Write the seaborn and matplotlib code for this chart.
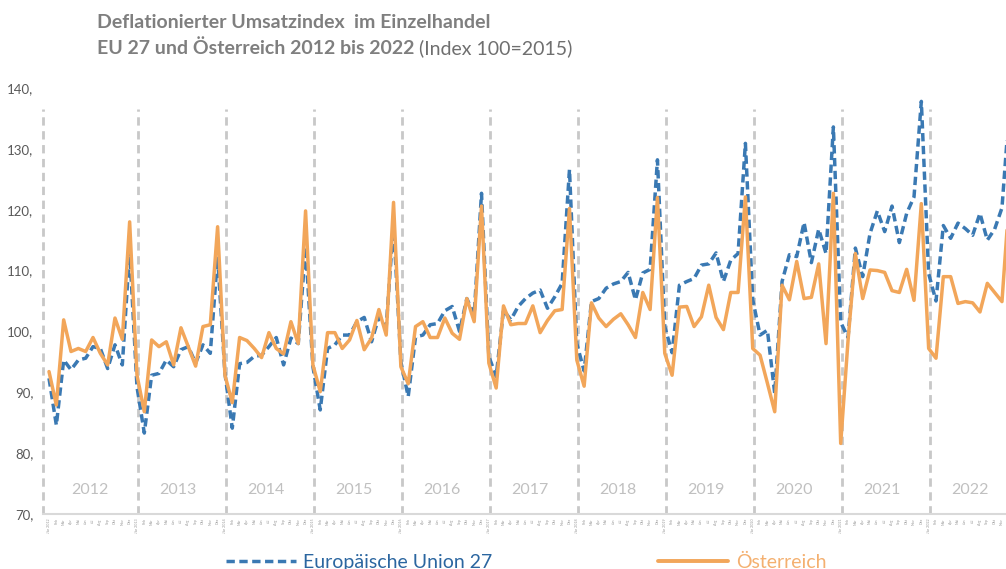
import numpy as np
import pandas as pd
import matplotlib.pyplot as plt
from matplotlib.lines import Line2D
import seaborn as sns

jahre = list(range(2012, 2023))
monate = ['Jän', 'Feb', 'Mär', 'Apr', 'Mai', 'Jun', 'Jul', 'Aug', 'Sep', 'Okt', 'Nov', 'Dez']

# Europäische Union 27, monthly Jan 2012 - Dez 2022
eu27 = [
    92.3, 84.6, 95.3, 93.7, 95.3, 95.6, 97.5, 97.2, 93.9, 97.8, 94.5, 113.4,
    90.9, 83.3, 92.8, 93.1, 95.3, 94.2, 97.0, 97.5, 94.8, 97.8, 96.4, 112.3,
    93.1, 84.1, 94.7, 94.9, 95.9, 96.1, 97.5, 99.0, 94.5, 98.9, 98.0, 113.9,
    94.2, 87.1, 97.2, 97.8, 99.4, 99.4, 101.6, 102.3, 98.3, 102.4, 100.8, 117.8,
    95.0, 89.3, 99.1, 99.4, 101.1, 101.3, 103.4, 104.1, 100.0, 105.4, 102.7, 122.7,
    95.9, 92.6, 103.5, 101.9, 104.1, 105.4, 106.3, 106.8, 103.8, 105.7, 107.9, 126.6,
    98.0, 93.5, 104.9, 105.4, 107.1, 107.8, 108.2, 109.7, 105.2, 109.6, 110.2, 128.2,
    100.8, 96.5, 107.6, 108.2, 108.7, 110.9, 111.1, 112.9, 108.2, 111.7, 112.8, 130.9,
    105.2, 99.4, 100.2, 89.8, 108.2, 112.6, 112.3, 117.9, 111.3, 116.8, 112.8, 133.6,
    101.5, 99.0, 113.7, 109.0, 116.1, 119.8, 116.4, 120.6, 114.6, 119.4, 122.1, 137.8,
    109.5, 105.0, 117.4, 115.3, 117.8, 116.9, 115.8, 119.4, 115.0, 116.8, 120.3, 136.5,
]

# Österreich
oesterreich = [
    93.4, 87.9, 101.9, 96.7, 97.2, 96.7, 99.0, 96.4, 94.5, 102.2, 98.7, 118.0,
    92.8, 86.8, 98.6, 97.5, 98.3, 94.5, 100.6, 97.5, 94.3, 100.8, 101.1, 117.2,
    92.8, 88.3, 99.0, 98.5, 97.2, 95.7, 99.8, 97.2, 96.3, 101.6, 98.0, 119.8,
    94.5, 90.1, 99.8, 99.8, 97.2, 98.6, 101.8, 97.0, 98.9, 103.6, 99.4, 121.2,
    94.2, 91.4, 100.8, 101.6, 99.0, 99.0, 102.2, 99.7, 98.7, 105.4, 101.6, 120.6,
    94.8, 90.7, 104.2, 101.1, 101.3, 101.3, 104.2, 99.8, 101.8, 103.4, 103.6, 120.2,
    95.3, 91.0, 104.7, 102.2, 100.8, 102.0, 102.9, 101.1, 99.0, 106.4, 103.6, 122.0,
    96.4, 92.8, 104.0, 104.1, 100.8, 102.4, 107.6, 102.3, 100.3, 106.4, 106.4, 122.1,
    97.2, 96.1, 91.5, 86.8, 107.6, 105.2, 111.5, 105.4, 105.6, 111.1, 98.0, 122.7,
    81.6, 98.5, 112.8, 105.4, 110.1, 110.0, 109.7, 106.7, 106.4, 110.2, 105.1, 121.0,
    97.2, 95.6, 109.0, 109.0, 104.6, 104.9, 104.7, 103.2, 107.9, 106.4, 104.9, 122.0,
]

reihen = ['Europäische Union 27', 'Österreich']
farben = {'Europäische Union 27': '#3a79b3', 'Österreich': '#f2a65a'}

sns.set_style('white')
plt.rcParams['font.family'] = ['Lato', 'DejaVu Sans']

monat_labels = []
for j in jahre:
    for m in monate:
        monat_labels.append(f'{m} {j}' if m == 'Jän' else m)

t = np.arange(len(eu27))
df = pd.DataFrame({
    't': np.concatenate([t, t]),
    'wert': eu27 + oesterreich,
    'reihe': [reihen[0]] * len(eu27) + [reihen[1]] * len(oesterreich),
})

W, H = 1006, 569
fig = plt.figure(figsize=(W / 100, H / 100), dpi=100)
ax = fig.add_axes([43 / W, 55 / H, 963 / W, 426 / H])

# year separators
sep = [-0.82] + [12 * k + 0.2 for k in range(1, len(jahre))]
ax.vlines(sep, 70, 136.5, colors='#c8c8c8', linestyles=(0, (3, 2)), lw=2, zorder=1, clip_on=False)

sns.lineplot(data=df, x='t', y='wert', hue='reihe', style='reihe',
             hue_order=reihen, style_order=reihen, palette=farben,
             dashes={reihen[0]: (2.4, 1.3), reihen[1]: ''},
             linewidth=2.5, legend=False, ax=ax, zorder=3)
for ln in ax.lines:
    ln.set_solid_capstyle('round')

for k, j in enumerate(jahre):
    ax.text(12 * k + 5.6, 74, str(j), ha='center', va='center', color='#c0c0c0', fontsize=11.5)

ax.set_yticks(range(70, 141, 10))
ax.set_yticklabels([f'{v},' for v in range(70, 141, 10)])
ax.set_xticks(t)
ax.set_xticklabels(monat_labels, rotation=90, fontsize=2.6, color='#9a9a9a')
# limits after the ticks, otherwise set_xticks widens the view to Dez 2022
ax.set_xlim(-0.82, 130.55)
ax.set_ylim(70, 140)
ax.tick_params(axis='y', length=0, pad=7, labelsize=9.5, labelcolor='#595959')
ax.tick_params(axis='x', length=0, pad=3)
ax.set_xlabel('')
ax.set_ylabel('')
for s in ['top', 'right', 'left']:
    ax.spines[s].set_visible(False)
ax.spines['bottom'].set_color('#d9d9d9')
ax.spines['bottom'].set_linewidth(1.5)

# title
fig.text(97 / W, 1 - 22 / H, 'Deflationierter Umsatzindex  im Einzelhandel',
         fontweight='bold', color='#7f7f7f', fontsize=14, va='center')
t2 = fig.text(97 / W, 1 - 48 / H, 'EU 27 und Österreich 2012 bis 2022',
              fontweight='bold', color='#7f7f7f', fontsize=14, va='center')
fig.canvas.draw()
bb = t2.get_window_extent()
fig.text(bb.x1 / W + 5 / W, 1 - 48 / H, '(Index 100=2015)', color='#6f6f6f', fontsize=14, va='center')

# legend
handles = [Line2D([], [], color=farben[reihen[0]], lw=2.5, dashes=(2.4, 1.3)),
           Line2D([], [], color=farben[reihen[1]], lw=2.8)]
leg = fig.legend(handles, reihen, loc='center', bbox_to_anchor=(526 / W, 7 / H), ncol=2,
                 frameon=False, fontsize=14, handlelength=3.6, handletextpad=0.4,
                 columnspacing=8.5, borderaxespad=0)
leg.get_texts()[0].set_color('#2b66a0')
leg.get_texts()[1].set_color('#f4b070')

fig.savefig('out.png', dpi=100)
